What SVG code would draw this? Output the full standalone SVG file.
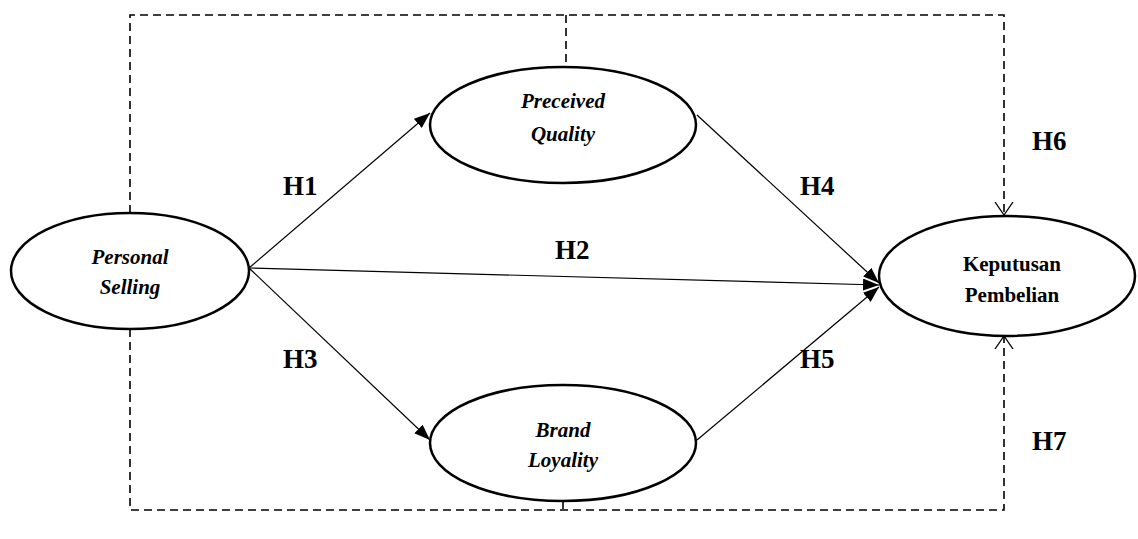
<svg xmlns="http://www.w3.org/2000/svg" width="1138" height="539" viewBox="0 0 1138 539">
<style>
.node ellipse{fill:#fff;stroke:#000;stroke-width:2.5}
.lbl{font-family:"Liberation Serif","Times New Roman",serif;font-weight:bold;font-size:21px;text-anchor:middle;fill:#000}
.it{font-style:italic}
.h{font-family:"Liberation Serif","Times New Roman",serif;font-weight:bold;font-size:27px;fill:#000}
.solid{stroke:#000;stroke-width:1.2;fill:none}
.dash{stroke:#000;stroke-width:1.6;fill:none;stroke-dasharray:8 5}
</style>
<defs>
<marker id="fa" viewBox="0 0 16 12" refX="16" refY="6" markerWidth="16" markerHeight="12" markerUnits="userSpaceOnUse" orient="auto"><path d="M0,0 L16,6 L0,12 z" fill="#000"/></marker>
<marker id="oa" viewBox="0 0 14 20" refX="13" refY="10" markerWidth="14" markerHeight="20" markerUnits="userSpaceOnUse" orient="auto"><path d="M0,1 L13,10 L0,19" fill="none" stroke="#000" stroke-width="1.3"/></marker>
</defs>
<g id="connectors">
<path class="dash" d="M130,213 V15 H1004 V215" marker-end="url(#oa)"/>
<path class="dash" d="M566,15 V67"/>
<path class="dash" d="M130,329 V510 H1004 V336" marker-end="url(#oa)"/>
<path class="dash" d="M563,501 V510"/>
<path class="solid" d="M249,268 L430,113" marker-end="url(#fa)"/>
<path class="solid" d="M249,268 L879,285" marker-end="url(#fa)"/>
<path class="solid" d="M249,268 L430,440" marker-end="url(#fa)"/>
<path class="solid" d="M697,115 L879,283" marker-end="url(#fa)"/>
<path class="solid" d="M697,440 L879,287" marker-end="url(#fa)"/>
</g>
<g id="labels">
<text class="h" x="283" y="195">H1</text>
<text class="h" x="555" y="259">H2</text>
<text class="h" x="283" y="368">H3</text>
<text class="h" x="800" y="195">H4</text>
<text class="h" x="800" y="368">H5</text>
<text class="h" x="1032" y="150">H6</text>
<text class="h" x="1032" y="450">H7</text>
</g>
<g id="personal-selling" class="node">
<ellipse cx="130" cy="271" rx="119" ry="58"/>
<text class="lbl it" x="130" y="264">Personal</text>
<text class="lbl it" x="130" y="294">Selling</text>
</g>
<g id="preceived-quality" class="node">
<ellipse cx="563" cy="125" rx="133" ry="58"/>
<text class="lbl it" x="563" y="108">Preceived</text>
<text class="lbl it" x="563" y="141">Quality</text>
</g>
<g id="brand-loyality" class="node">
<ellipse cx="563" cy="443" rx="133" ry="58"/>
<text class="lbl it" x="563" y="437">Brand</text>
<text class="lbl it" x="563" y="467">Loyality</text>
</g>
<g id="keputusan-pembelian" class="node">
<ellipse cx="1007" cy="276" rx="128" ry="60"/>
<text class="lbl" x="1012" y="271">Keputusan</text>
<text class="lbl" x="1012" y="302">Pembelian</text>
</g>
</svg>
